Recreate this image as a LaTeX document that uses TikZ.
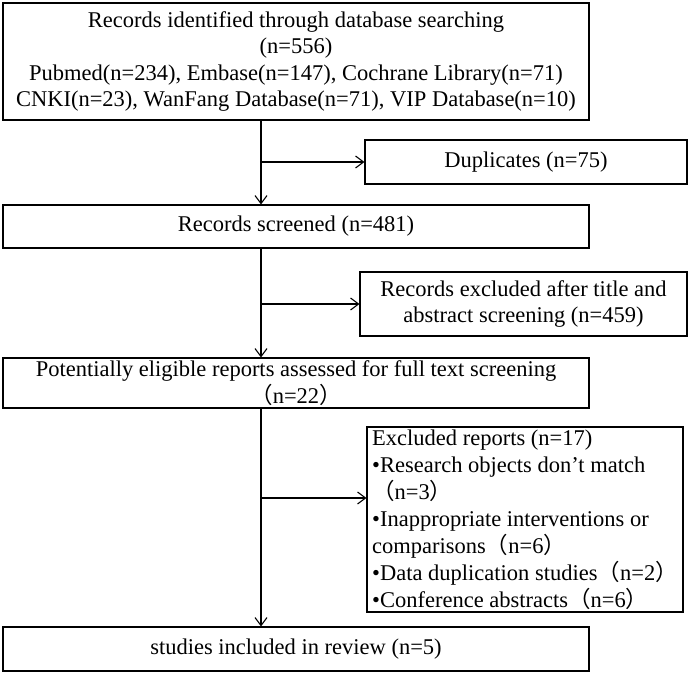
\documentclass[tikz,border=0pt]{standalone}
\usepackage{fontspec}
\setmainfont{Liberation Serif}
\newfontfamily\cjk{Noto Sans CJK SC}
\usetikzlibrary{arrows.meta}
\newcommand{\lpar}{{\cjk （}}
\newcommand{\rpar}{{\cjk ）}}
\begin{document}
\begin{tikzpicture}[x=1pt,y=-1pt,
  box/.style={draw, line width=1.1pt, inner sep=0pt, font=\fontsize{22.5}{26.5}\selectfont, align=center},
  arr/.style={line width=1.1pt, -{Straight Barb[length=8pt,width=12pt,line width=1.1pt]}}]
\useasboundingbox (0,0) rectangle (691,675);
\node[box, minimum width=586pt, minimum height=117pt] (b1) at (296,61.5)
  {Records identified through database searching\\(n=556)\\Pubmed(n=234), Embase(n=147), Cochrane Library(n=71)\\CNKI(n=23), WanFang Database(n=71), VIP Database(n=10)};
\node[box, minimum width=322pt, minimum height=44pt] (dup) at (526,162) {Duplicates (n=75)};
\node[box, minimum width=586pt, minimum height=43pt] (b2) at (296,226.5) {Records screened (n=481)};
\node[box, minimum width=327pt, minimum height=64pt] (ex1) at (523.5,304)
  {Records excluded after title and\\abstract screening (n=459)};
\node[box, minimum width=586pt, minimum height=50pt] (b3) at (296,383)
  {Potentially eligible reports assessed for full text screening\\\lpar n=22\rpar};
\node[box, align=left, minimum width=316pt, minimum height=185pt, font=\fontsize{22.5}{27}\selectfont] (ex2) at (525,519.5)
  {Excluded reports (n=17)\\•Research objects don’t match\\\lpar n=3\rpar\\•Inappropriate interventions or\\comparisons\lpar n=6\rpar\\•Data duplication studies\lpar n=2\rpar\\•Conference abstracts\lpar n=6\rpar};
\node[box, minimum width=586pt, minimum height=44pt] (b4) at (296,649) {studies included in review (n=5)};
\coordinate (vx) at (261,0);
\coordinate (j3) at (261,498);
\draw[arr] (b1.south -| vx) -- (b2.north -| vx);
\draw[arr] (b2.south -| vx) -- (b3.north -| vx);
\draw[arr] (b3.south -| vx) -- (b4.north -| vx);
\draw[arr] (dup.west -| vx) -- (dup.west);
\draw[arr] (ex1.west -| vx) -- (ex1.west);
\draw[arr] (j3) -- (j3 -| ex2.west);
\end{tikzpicture}
\end{document}
